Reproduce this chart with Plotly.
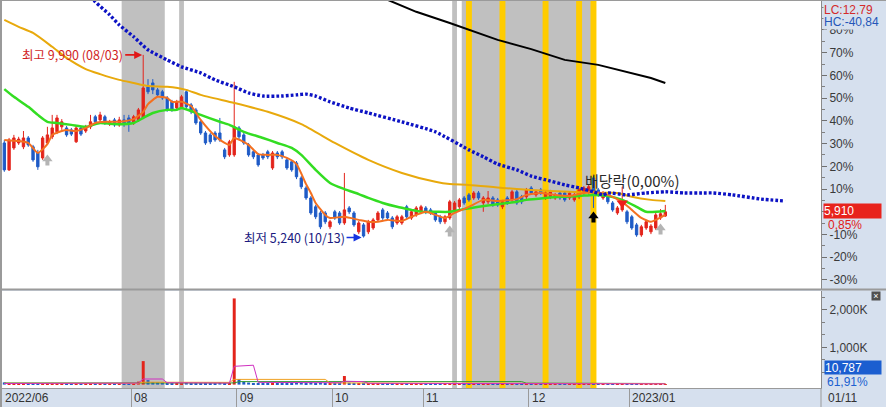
import plotly.graph_objects as go
import pandas as pd

# ---------------- data ----------------
HOLIDAYS = ["2022-08-15", "2022-09-09", "2022-09-12", "2022-10-03", "2022-10-10", "2022-12-30"]
dates = [d.strftime("%Y-%m-%d") for d in pd.bdate_range("2022-06-23", "2023-01-11")
         if d.strftime("%Y-%m-%d") not in HOLIDAYS]
pos = {d: i for i, d in enumerate(dates)}

opens = [7700, 7000, 7570, 7700, 7600, 7830, 7600, 7440, 7310, 7700,
         7860, 7990, 8120, 8090, 8040, 7730, 8090, 8010, 8120, 8380,
         8300, 8380, 8190, 8300, 8170, 8300, 8350, 8220, 8300, 8350,
         9160, 9260, 9080, 9030, 8870, 8770, 8610, 8640, 9030, 8690,
         8560, 8250, 7960, 7910, 7960, 7960, 7520, 7390, 7390, 8090,
         7910, 7650, 7470, 7390, 7390, 7470, 7050, 7440, 7470, 7260,
         7210, 7180, 6790, 6530, 6270, 6040, 5880, 5880, 5520, 5910,
         5880, 5620, 6010, 5880, 5390, 5570, 5390, 5490, 5700, 5960,
         5880, 5750, 5620, 5620, 6040, 5750, 5830, 5910, 6010, 5960,
         5880, 5780, 5650, 5750, 5960, 6040, 6270, 6350, 6270, 6400,
         6140, 6170, 6270, 6220, 6040, 6270, 6220, 6430, 6300, 6300,
         6530, 6350, 6480, 6270, 6300, 6270, 6400, 6400, 6270, 6220,
         6300, 6400, 6400, 6790, 6480, 6270, 6300, 6140, 5880, 5960,
         5910, 5780, 5570, 5310, 5490, 5390, 5490, 5750, 5800]
highs = [7780, 7830, 7910, 7860, 8010, 7880, 7650, 7520, 7880, 8120,
         8430, 8430, 8320, 8140, 8090, 8140, 8140, 8170, 8430, 8430,
         8510, 8430, 8300, 8350, 8380, 8430, 8430, 8430, 8610, 9990,
         9360, 9360, 9130, 9080, 8920, 8820, 8820, 8950, 9080, 8740,
         8610, 8300, 8010, 7960, 8010, 8350, 7570, 7780, 9290, 8140,
         7960, 7700, 7520, 7440, 7440, 7520, 7490, 7490, 7520, 7310,
         7260, 7230, 6840, 6580, 6320, 6090, 5930, 5930, 5700, 5960,
         5930, 6920, 6060, 5930, 5670, 5620, 5700, 5750, 5930, 6010,
         5930, 5800, 5830, 5830, 6090, 5960, 6060, 6090, 6060, 6010,
         5930, 5830, 5830, 6220, 6190, 6270, 6320, 6400, 6450, 6450,
         6320, 6450, 6320, 6270, 6220, 6320, 6480, 6480, 6350, 6530,
         6580, 6480, 6530, 6450, 6480, 6400, 6450, 6450, 6450, 6400,
         6530, 6580, 6610, 6840, 6530, 6450, 6350, 6190, 6060, 6560,
         5960, 5830, 5620, 5570, 5700, 5590, 5880, 5980, 6090]
lows = [6950, 6970, 7520, 7650, 7540, 7600, 7210, 7000, 7260, 7650,
        7800, 7930, 8040, 7860, 7880, 7700, 7880, 7960, 8060, 8190,
        8250, 8170, 8140, 8120, 8120, 8120, 7990, 8170, 8250, 8320,
        8970, 8970, 8900, 8820, 8510, 8510, 8560, 8580, 8580, 8450,
        8170, 7910, 7650, 7670, 7730, 7730, 7280, 7340, 7340, 7800,
        7650, 7340, 7280, 7080, 7260, 7280, 7000, 7280, 7280, 7000,
        6950, 6760, 6500, 6220, 5830, 5720, 5460, 5590, 5460, 5700,
        5570, 5570, 5850, 5520, 5330, 5240, 5330, 5440, 5650, 5700,
        5700, 5460, 5570, 5570, 5720, 5700, 5780, 5850, 5850, 5830,
        5650, 5590, 5590, 5700, 5910, 5980, 6090, 6170, 6220, 6220,
        5910, 6110, 6040, 6040, 5980, 6090, 6170, 6090, 6110, 6240,
        6350, 6300, 6350, 6220, 6240, 6220, 6220, 6170, 6220, 6170,
        6240, 6350, 6350, 6010, 6300, 6220, 6110, 5910, 5830, 5910,
        5590, 5440, 5260, 5260, 5440, 5330, 5440, 5700, 5780]
closes = [7000, 7780, 7830, 7800, 7830, 7650, 7260, 7080, 7830, 7910,
          8090, 8350, 8250, 7910, 7930, 8090, 7930, 8120, 8250, 8250,
          8430, 8220, 8250, 8170, 8300, 8220, 8220, 8380, 8560, 9130,
          9030, 9080, 8950, 8870, 8560, 8560, 8770, 8900, 8640, 8510,
          8220, 7960, 7700, 7730, 7780, 7780, 7340, 7730, 8120, 7860,
          7700, 7390, 7340, 7130, 7310, 7340, 7440, 7340, 7340, 7050,
          7000, 6820, 6560, 6270, 5880, 5780, 5520, 5650, 5650, 5750,
          5620, 5960, 5910, 5570, 5620, 5280, 5650, 5700, 5880, 5750,
          5750, 5520, 5780, 5780, 5780, 5910, 6010, 6040, 5910, 5880,
          5700, 5650, 5780, 6170, 6140, 6220, 6140, 6220, 6400, 6270,
          6270, 6270, 6090, 6090, 6170, 6140, 6430, 6140, 6170, 6480,
          6400, 6430, 6400, 6400, 6430, 6350, 6270, 6220, 6400, 6350,
          6480, 6530, 6560, 6350, 6350, 6400, 6170, 5960, 6010, 6140,
          5650, 5490, 5310, 5520, 5650, 5540, 5830, 5860, 5910]
volumes = [60000, 35000, 30000, 25000, 28000, 22000, 30000, 35000, 40000, 30000,
           45000, 38000, 25000, 22000, 20000, 30000, 18000, 20000, 35000, 25000,
           30000, 22000, 18000, 20000, 22000, 18000, 25000, 30000, 80000, 630000,
           120000, 70000, 60000, 55000, 50000, 40000, 35000, 45000, 60000, 40000,
           45000, 40000, 50000, 30000, 28000, 60000, 35000, 40000, 2310000, 150000,
           80000, 55000, 40000, 45000, 30000, 35000, 50000, 25000, 30000, 45000,
           40000, 55000, 60000, 50000, 65000, 45000, 55000, 35000, 40000, 45000,
           40000, 230000, 50000, 45000, 40000, 50000, 45000, 35000, 40000, 30000,
           25000, 30000, 28000, 25000, 35000, 25000, 28000, 30000, 22000, 20000,
           25000, 20000, 18000, 40000, 30000, 25000, 22000, 25000, 20000, 18000,
           22000, 25000, 18000, 20000, 16000, 18000, 22000, 25000, 18000, 20000,
           18000, 16000, 15000, 18000, 15000, 14000, 16000, 15000, 14000, 16000,
           18000, 20000, 22000, 30000, 25000, 18000, 20000, 25000, 22000, 28000,
           30000, 28000, 35000, 25000, 20000, 18000, 22000, 17000, 10787]

# moving-average lines (bar number, price)
ma5_bar = [0, 3, 5, 7, 9, 10, 12, 13, 15, 17, 19, 21, 24, 27, 29, 30, 32, 34, 35, 37, 39, 41, 44, 46,
           47, 48, 51, 53, 55, 57, 59, 61, 63, 64, 65, 67, 68, 71, 74, 76, 78, 80, 83, 85, 88, 90, 92,
           94, 97, 100, 103, 107, 109, 112, 115, 118, 121, 123, 126, 129, 131, 133, 135, 136, 138]
ma5_val = [7780, 7750, 7700, 7440, 7670, 7910, 8010, 8040, 8010, 8090, 8220, 8250, 8250, 8320, 8510,
           8710, 8900, 8870, 8770, 8770, 8660, 8300, 7880, 7700, 7650, 7830, 7650, 7410, 7390, 7390,
           7310, 7150, 6630, 6400, 6140, 5830, 5750, 5780, 5700, 5650, 5650, 5700, 5670, 5780, 5910,
           5830, 5750, 5880, 6040, 6220, 6190, 6240, 6350, 6400, 6350, 6320, 6400, 6430, 6350, 6170,
           5960, 5750, 5650, 5700, 5830]
ma20_bar = [0, 2, 5, 7, 9, 11, 14, 17, 20, 23, 27, 29, 31, 34, 36, 37, 39, 41, 45, 47, 50, 54, 57, 60,
            62, 65, 68, 71, 74, 76, 79, 82, 85, 87, 90, 93, 96, 99, 102, 107, 109, 113, 116, 120, 123,
            126, 129, 132, 134, 138]
ma20_val = [9100, 8900, 8640, 8430, 8250, 8220, 8170, 8120, 8220, 8190, 8220, 8350, 8480, 8560, 8560,
            8610, 8530, 8430, 8250, 8170, 7990, 7830, 7700, 7570, 7390, 7000, 6660, 6500, 6370, 6270,
            6140, 6040, 5960, 5910, 5910, 5910, 5980, 6040, 6090, 6170, 6220, 6270, 6300, 6320, 6350,
            6320, 6220, 6040, 5910, 5930]
ma60_bar = [0, 3, 6, 10, 13, 17, 20, 24, 27, 30, 34, 38, 41, 48, 55, 62, 69, 76, 83, 90, 93, 97, 104,
            110, 118, 124, 128, 131, 135, 138]
ma60_val = [10900, 10720, 10560, 10200, 9910, 9620, 9490, 9340, 9260, 9180, 9160, 9080, 8950, 8740,
            8510, 8190, 7700, 7260, 6920, 6690, 6630, 6610, 6530, 6480, 6430, 6400, 6400, 6300, 6220,
            6190]
ma120_bar = [76, 80, 86, 93, 97, 103, 110, 117, 124, 128, 135, 138]
ma120_val = [11630, 11420, 11110, 10820, 10640, 10380, 10140, 9860, 9730, 9600, 9390, 9260]
span_bar = [18, 19, 22, 24, 27, 30, 34, 37, 41, 44, 48, 51, 54, 58, 61, 63, 65, 68, 72, 76, 83, 90, 97,
            100, 103, 107, 110, 114, 117, 120, 123, 125, 126, 130, 134, 138, 142, 146, 148, 152, 158, 163]
span_val = [11500, 11370, 11030, 10770, 10460, 10120, 9860, 9680, 9520, 9340, 9160, 9000, 8920, 8920,
            8950, 8970, 8920, 8770, 8610, 8480, 8250, 7990, 7520, 7340, 7150, 7000, 6840, 6710, 6610,
            6530, 6430, 6350, 6400, 6350, 6400, 6430, 6400, 6400, 6400, 6350, 6240, 6190]

vma5_bar = [0, 28, 29, 33, 34, 47, 48, 52, 53, 70, 71, 75, 76, 138]
vma5_val = [30000, 40000, 150000, 150000, 50000, 40000, 490000, 520000, 60000, 50000, 90000, 80000,
            35000, 20000]
vma20_bar = [0, 28, 29, 47, 48, 67, 68, 138]
vma20_val = [35000, 35000, 65000, 60000, 140000, 140000, 45000, 25000]
vma60_bar = [0, 48, 49, 108, 109, 138]
vma60_val = [45000, 45000, 80000, 80000, 40000, 30000]

gray_periods = [("2022-07-28", "2022-08-09"), ("2022-08-16", "2022-08-16"),
                ("2022-11-09", "2022-11-09"), ("2022-11-11", "2022-12-20")]
yellow_days = ["2022-11-14", "2022-11-23", "2022-12-06", "2022-12-15", "2022-12-20"]
buy_signals = [("2022-07-06", 7280), ("2022-11-08", 5440), ("2023-01-10", 5490)]
sell_signals = [("2022-12-28", 6140)]
exdiv_day, exdiv_price, exdiv_text = "2022-12-20", 5800, "배당락(0,00%)"

pct_ticks = [80, 70, 60, 50, 40, 30, 20, 10, -10, -20, -30]
base_price = 5910
last_change = "0,85%"
vol_ticks = [1000000, 2000000]
vol_ticktext = ["1,000K", "2,000K"]
vol_ratio = "61,91%"
lc_text, hc_text = "LC:12,79", "HC:-40,84"
month_tick_dates = ["2022-08-01", "2022-09-01", "2022-10-04", "2022-11-01", "2022-12-01", "2023-01-02"]
month_tick_text = ["08", "09", "10", "11", "12", "2023/01"]
first_label = "2022/06"

# ---------------- style ----------------
RED = "#e3241b"
BLUE = "#1f5bc6"
AXBG = "#d6e0ee"
FONT = "Liberation Sans, Noto Sans CJK KR, sans-serif"
KFONT = "Noto Sans CJK KR, Liberation Sans, sans-serif"


def px_x(px):
    return (px - 2) / 819.0


def px_y(py):
    return (388 - py) / 387.0


N = len(dates)
idx = list(range(N))
fig = go.Figure()

for a, b in gray_periods:
    fig.add_shape(type="rect", xref="x", yref="paper", x0=pos[a] - 0.5, x1=pos[b] + 0.5,
                  y0=0, y1=1, fillcolor="#c0c0c0", line_width=0, layer="below")
for d in yellow_days:
    fig.add_shape(type="rect", xref="x", yref="paper", x0=pos[d] - 0.62, x1=pos[d] + 0.62,
                  y0=0, y1=1, fillcolor="#ffcc00", line_width=0, layer="below")

fig.add_trace(go.Candlestick(
    x=idx, open=opens, high=highs, low=lows, close=closes,
    increasing=dict(line=dict(color=RED, width=1), fillcolor=RED),
    decreasing=dict(line=dict(color=BLUE, width=1), fillcolor=BLUE),
    whiskerwidth=0, showlegend=False, hoverinfo="skip", xaxis="x", yaxis="y"))

fig.add_trace(go.Scatter(x=ma120_bar, y=ma120_val, mode="lines", yaxis="y",
                         line=dict(color="#000000", width=2), showlegend=False, hoverinfo="skip"))
fig.add_trace(go.Scatter(x=ma60_bar, y=ma60_val, mode="lines", yaxis="y",
                         line=dict(color="#e8a90c", width=2, shape="spline", smoothing=0.6),
                         showlegend=False, hoverinfo="skip"))
fig.add_trace(go.Scatter(x=ma20_bar, y=ma20_val, mode="lines", yaxis="y",
                         line=dict(color="#33dd22", width=2.5, shape="spline", smoothing=0.6),
                         showlegend=False, hoverinfo="skip"))
fig.add_trace(go.Scatter(x=ma5_bar, y=ma5_val, mode="lines", yaxis="y",
                         line=dict(color="#f47020", width=2, shape="spline", smoothing=0.5),
                         showlegend=False, hoverinfo="skip"))
fig.add_trace(go.Scatter(x=span_bar, y=span_val, mode="lines", yaxis="y",
                         line=dict(color="#0c12c4", width=3.4, dash="2.8px,2px", shape="spline",
                                   smoothing=0.5),
                         showlegend=False, hoverinfo="skip"))

fig.add_trace(go.Scatter(x=[pos[d] for d, _ in sell_signals], y=[p for _, p in sell_signals],
                         mode="markers", yaxis="y",
                         marker=dict(symbol="triangle-down", size=10, color="#ee1c1c"),
                         showlegend=False, hoverinfo="skip"))
# block-arrow heads (stems are added below as annotations)
fig.add_trace(go.Scatter(x=[pos[d] for d, _ in buy_signals], y=[p for _, p in buy_signals],
                         mode="markers", yaxis="y",
                         marker=dict(symbol="triangle-up", size=9, color="#b4b4b4"),
                         showlegend=False, hoverinfo="skip"))
fig.add_trace(go.Scatter(x=[pos[exdiv_day]], y=[exdiv_price], mode="markers", yaxis="y",
                         marker=dict(symbol="triangle-up", size=9, color="#000000"),
                         showlegend=False, hoverinfo="skip"))

# volume pane
vol_colors = [RED if c >= o else BLUE for o, c in zip(opens, closes)]
fig.add_trace(go.Bar(x=idx, y=volumes, marker=dict(color=vol_colors, line_width=0), width=0.62,
                     yaxis="y2", showlegend=False, hoverinfo="skip"))
fig.add_trace(go.Scatter(x=vma60_bar, y=vma60_val, mode="lines", yaxis="y2",
                         line=dict(color="#2f9a2f", width=1), showlegend=False, hoverinfo="skip"))
fig.add_trace(go.Scatter(x=vma20_bar, y=vma20_val, mode="lines", yaxis="y2",
                         line=dict(color="#f0a020", width=1), showlegend=False, hoverinfo="skip"))
fig.add_trace(go.Scatter(x=vma5_bar, y=vma5_val, mode="lines", yaxis="y2",
                         line=dict(color="#d030c0", width=1), showlegend=False, hoverinfo="skip"))

ann = []
# high / low labels
hi_i = highs.index(max(highs))
lo_i = lows.index(min(lows))
ann.append(dict(x=hi_i, y=highs[hi_i], xref="x", yref="y", showarrow=True, ax=-18, ay=0,
                xanchor="right", yanchor="middle", arrowhead=2, arrowsize=1, arrowwidth=1.6,
                arrowcolor="#e01818", standoff=1,
                text=f"최고 {highs[hi_i]:,} ({dates[hi_i][5:7]}/{dates[hi_i][8:]})",
                font=dict(family=KFONT, size=12.5, color="#d01e1e")))
ann.append(dict(x=lo_i, y=lows[lo_i], xref="x", yref="y", showarrow=True, ax=-17, ay=0,
                xanchor="right", yanchor="middle", arrowhead=2, arrowsize=1, arrowwidth=1.6,
                arrowcolor="#1533e0", standoff=2,
                text=f"최저 {min(lows):,} ({dates[lo_i][5:7]}/{dates[lo_i][8:]})",
                font=dict(family=KFONT, size=12.5, color="#1a1a80")))
# ex-dividend
ann.append(dict(x=pos[exdiv_day], y=px_y(180), xref="x", yref="paper", showarrow=False,
                xanchor="left", yanchor="middle", xshift=-10, text=exdiv_text,
                font=dict(family=KFONT, size=15, color="#2a2a2a")))
# arrow stems
for d, p, col in [(d, p, "#b4b4b4") for d, p in buy_signals] + [(exdiv_day, exdiv_price, "#000000")]:
    ann.append(dict(x=pos[d], y=p, xref="x", yref="y", showarrow=True, ax=0, ay=8, text="",
                    arrowhead=0, arrowwidth=4, arrowcolor=col, standoff=2))

# right-side labels
right_labels = [
    (823, 9.5, lc_text, dict(bgcolor=AXBG), "#d42a2a"),
    (823, 22, hc_text, dict(bgcolor=AXBG), "#2456b8"),
    (827, 225, last_change, {}, "#e02020"),
    (826, 381.5, vol_ratio, {}, "#2060d0"),
]
for xp, yp, txt, extra, col in right_labels:
    ann.append(dict(x=px_x(xp), y=px_y(yp), xref="paper", yref="paper", showarrow=False,
                    xanchor="left", yanchor="middle", text=txt, borderpad=0,
                    font=dict(family=FONT, size=12, color=col), **extra))
ann.append(dict(x=px_x(823), y=px_y(211), xref="paper", yref="paper", showarrow=False, xanchor="left",
                yanchor="middle", text=f"{closes[-1]:,}", bgcolor="#e8231c", width=57, height=14,
                align="left", borderpad=0, font=dict(family=FONT, size=12, color="#ffffff")))
ann.append(dict(x=px_x(824), y=px_y(367.5), xref="paper", yref="paper", showarrow=False,
                xanchor="left", yanchor="middle", text=f"{volumes[-1]:,}", bgcolor="#1b5ed0",
                width=56, height=13, align="left", borderpad=0,
                font=dict(family=FONT, size=12, color="#ffffff")))
ann.append(dict(x=px_x(876), y=px_y(296), xref="paper", yref="paper", showarrow=False,
                xanchor="center", yanchor="middle", text="×", bgcolor="#505050", width=8, height=8,
                borderpad=0, font=dict(family=FONT, size=9, color="#ffffff")))

# date labels
date_y = px_y(397.5)
ann.append(dict(x=px_x(3), y=date_y, xref="paper", yref="paper", showarrow=False, xanchor="left",
                yanchor="middle", text=first_label, font=dict(family=FONT, size=12, color="#333333")))
for d, t in zip(month_tick_dates, month_tick_text):
    ann.append(dict(x=pos[d] - 0.5, y=date_y, xref="x", yref="paper", showarrow=False,
                    xanchor="left", yanchor="middle", xshift=1, text=t,
                    font=dict(family=FONT, size=12, color="#333333")))
ann.append(dict(x=px_x(826), y=date_y, xref="paper", yref="paper", showarrow=False,
                xanchor="left", yanchor="middle", text=f"{dates[-1][5:7]}/{dates[-1][8:]}",
                font=dict(family=FONT, size=12, color="#333333")))

shapes = [
    dict(type="rect", xref="paper", yref="paper", x0=px_x(0), x1=px_x(2), y0=px_y(407), y1=px_y(0),
         fillcolor="#9a9a9a", line_width=0),
    dict(type="line", xref="paper", yref="paper", x0=px_x(0), x1=px_x(886), y0=px_y(0.5), y1=px_y(0.5),
         line=dict(color="#9a9a9a", width=1)),
    dict(type="line", xref="paper", yref="paper", x0=px_x(0), x1=px_x(886), y0=px_y(289.5),
         y1=px_y(289.5), line=dict(color="#9a9a9a", width=2)),
    dict(type="line", xref="paper", yref="paper", x0=1, x1=1, y0=px_y(407), y1=px_y(388),
         line=dict(color="#9a9a9a", width=1)),
]
for s in shapes:
    fig.add_shape(**s)

pct_vals = [base_price * (1 + k / 100) for k in pct_ticks]
minor_vals = [base_price * (1 + k / 100) for k in range(-35, 95, 5)]

fig.update_layout(
    width=886, height=407,
    margin=dict(l=2, r=65, t=1, b=19, pad=0),
    paper_bgcolor=AXBG, plot_bgcolor="#ffffff",
    showlegend=False, bargap=0.3,
    annotations=ann,
    xaxis=dict(range=[-0.48, 170.5], domain=[0, 1], anchor="y2", showgrid=False, zeroline=False,
               showline=True, linecolor="#9a9a9a", linewidth=1, ticks="outside", ticklen=19,
               tickcolor="#9a9a9a", tickwidth=1,
               tickvals=[pos[d] - 0.5 for d in month_tick_dates], showticklabels=False,
               rangeslider=dict(visible=False), fixedrange=True),
    yaxis=dict(domain=[px_y(289), 1], range=[3902.8, 11390.8], side="right", anchor="x",
               showgrid=False, zeroline=False, showline=True, linecolor="#8a8a8a", linewidth=1,
               ticks="outside", ticklen=5, tickcolor="#707070",
               tickvals=pct_vals, ticktext=[f"{k}%" for k in pct_ticks],
               tickfont=dict(family=FONT, size=12, color="#3a3a3a"),
               minor=dict(tickvals=minor_vals, ticks="outside", ticklen=3, tickcolor="#808080"),
               fixedrange=True),
    yaxis2=dict(domain=[0, px_y(291)], range=[-91000, 2509000], side="right", anchor="x",
                showgrid=False, zeroline=False, showline=True, linecolor="#8a8a8a", linewidth=1,
                ticks="outside", ticklen=5, tickcolor="#707070",
                tickvals=vol_ticks, ticktext=vol_ticktext,
                tickfont=dict(family=FONT, size=12, color="#3a3a3a"),
                minor=dict(tickvals=[k * 1000000 / 3 for k in range(1, 8)], ticks="outside",
                           ticklen=3, tickcolor="#808080"),
                fixedrange=True),
)

fig.write_html("out.html", config={"displayModeBar": False},
               post_script="document.body.style.margin='0';document.body.style.overflow='hidden';")
